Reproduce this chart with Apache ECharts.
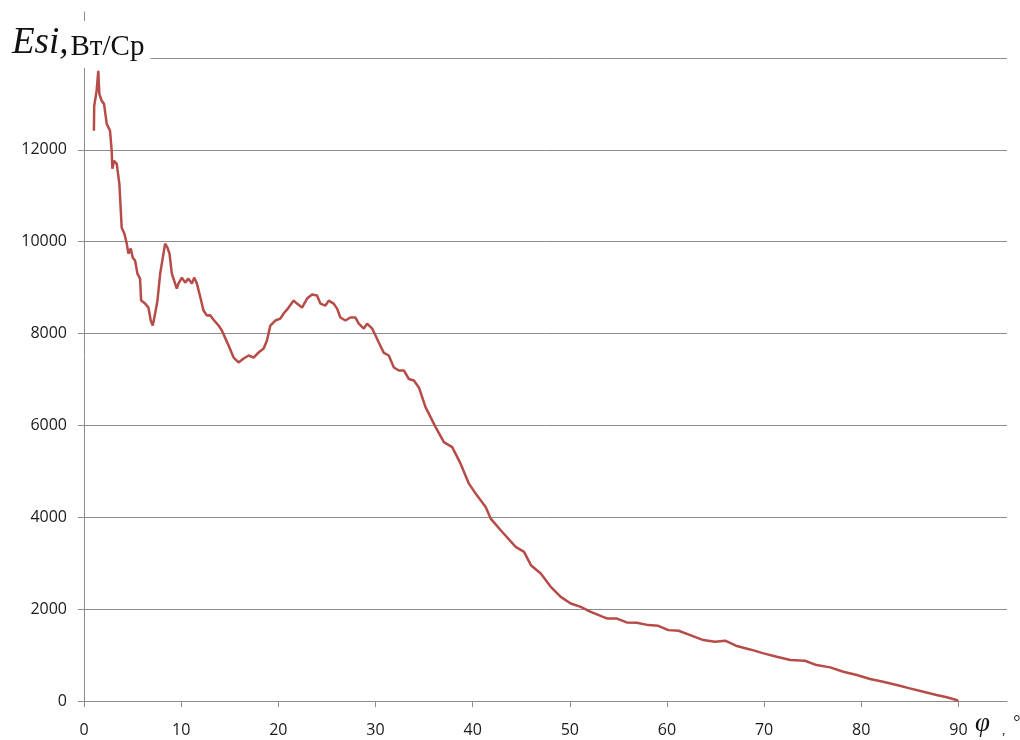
<!DOCTYPE html>
<html>
<head>
<meta charset="utf-8">
<script src="https://cdn.jsdelivr.net/npm/echarts@6/dist/echarts.min.js"></script>
<style>html,body{margin:0;padding:0;background:#fff;}#chart{width:1020px;height:740px;}</style>
</head>
<body>
<div id="chart"></div>
<script>
const phi = [1.02,1.05,1.3,1.47,1.58,1.82,2.06,2.16,2.34,2.68,2.85,2.92,3.09,3.37,3.64,3.88,4.16,4.4,4.57,4.81,5.02,5.26,5.5,5.77,5.88,6.29,6.63,6.87,7.08,7.32,7.56,7.84,8.18,8.35,8.59,8.8,9.04,9.38,9.55,9.72,10.07,10.41,10.75,11.1,11.34,11.62,11.96,12.3,12.65,12.99,13.33,13.5,13.85,14.19,14.54,14.88,15.4,15.91,16.43,16.94,17.46,17.97,18.49,18.83,19.18,19.69,20.21,20.55,21.06,21.58,21.92,22.44,22.96,23.47,23.98,24.33,24.85,25.19,25.7,26.05,26.39,26.91,27.42,27.94,28.28,28.8,29.14,29.66,30.0,30.34,30.86,31.37,31.89,32.41,32.92,33.44,33.95,34.47,35.15,36.19,37.04,37.9,38.76,39.62,40.31,41.34,41.86,42.89,44.43,45.29,46.0,47.01,48.04,49.07,50.1,51.13,52.16,53.8,54.8,55.85,56.9,58.1,59.1,60.15,61.2,62.4,63.75,64.95,66.0,67.2,68.55,69.95,71.3,72.7,74.2,75.4,76.8,78.15,79.55,80.9,82.25,83.65,85.0,86.4,87.75,88.8,89.8,90.0];
const esi = [12413,12956,13283,13717,13217,13065,13000,13022,12565,12413,11978,11587,11760,11695,11260,10304,10174,9957,9739,9848,9652,9587,9304,9196,8717,8652,8565,8283,8174,8435,8717,9304,9739,9957,9870,9739,9304,9087,8978,9087,9217,9109,9196,9087,9217,9087,8800,8500,8391,8400,8300,8326,8174,8065,7900,7739,7478,7370,7457,7522,7478,7587,7674,7848,8174,8283,8326,8435,8565,8717,8652,8565,8761,8848,8826,8652,8609,8717,8652,8543,8348,8283,8348,8348,8217,8109,8215,8109,7957,7804,7580,7522,7261,7196,7196,7010,6978,6826,6398,5963,5637,5528,5167,4732,4515,4224,3971,3717,3354,3246,2957,2776,2485,2267,2122,2050,1941,1797,1797,1710,1703,1652,1637,1543,1529,1435,1326,1290,1312,1196,1123,1036,963,891,877,782,732,637,565,478,420,348,275,202,130,80,22,0];
const xTicks = [0,10,20,30,40,50,60,70,80,90];
const yTicks = [0,2000,4000,6000,8000,10000,12000,14000];
const yLabels = [0,2000,4000,6000,8000,10000,12000];

const gridColor = '#8c8c8c';
const chart = echarts.init(document.getElementById('chart'));
chart.setOption({
  animation: false,
  backgroundColor: '#fff',
  title: [{
    text: '{a|Esi,}{b|Вт/Ср}',
    left: 8, top: 21,
    padding: [4, 6, 6, 4],
    backgroundColor: '#fff',
    textStyle: {
      fontWeight: 'normal',
      rich: {
        a: {fontFamily: 'Liberation Serif', fontStyle: 'italic', fontWeight: 'normal', fontSize: 37, color: '#111', lineHeight: 37, verticalAlign: 'bottom'},
        b: {fontFamily: 'Liberation Serif', fontWeight: 'normal', fontSize: 29, color: '#111', lineHeight: 31, verticalAlign: 'bottom', padding: [0, 0, 0, 2]}
      }
    }
  }, {
    text: '{p|φ}{c|,}{d|°}',
    left: 975, top: 709,
    padding: 0,
    textStyle: {
      fontWeight: 'normal',
      rich: {
        p: {fontFamily: 'Liberation Serif', fontStyle: 'italic', fontWeight: 'normal', fontSize: 27, color: '#111', lineHeight: 28, verticalAlign: 'bottom'},
        c: {fontFamily: 'Liberation Serif', fontWeight: 'normal', fontSize: 13, color: '#111', lineHeight: 28, verticalAlign: 'bottom', padding: [0, 0, 0, 12]},
        d: {fontFamily: 'Liberation Serif', fontWeight: 'normal', fontSize: 18, color: '#111', lineHeight: 28, verticalAlign: 'middle', padding: [0, 0, 0, 8]}
      }
    }
  }],
  grid: {left: 84, right: 13, top: 12, bottom: 39, containLabel: false, outerBoundsMode: 'none'},
  xAxis: {
    type: 'value', min: 0, max: 95, interval: 10,
    axisLine: {show: true, lineStyle: {color: gridColor, width: 1}},
    axisTick: {show: true, length: 6, lineStyle: {color: gridColor}, customValues: xTicks},
    axisLabel: {customValues: xTicks, margin: 21, color: '#1a1a1a', fontFamily: 'Open Sans', fontSize: 16, formatter: v => String(v)},
    splitLine: {show: false}
  },
  yAxis: {
    type: 'value', min: 0, max: 15000, interval: 2000,
    axisLine: {show: true, lineStyle: {color: gridColor, width: 1}},
    axisTick: {show: true, length: 6, lineStyle: {color: gridColor}, customValues: yTicks},
    axisLabel: {customValues: yLabels, margin: 17, color: '#1a1a1a', fontFamily: 'Open Sans', fontSize: 16, formatter: v => String(v)},
    splitLine: {show: true, lineStyle: {color: gridColor, width: 1}}
  },
  series: [{
    type: 'line',
    data: phi.map((p, i) => [p, esi[i]]),
    showSymbol: false,
    symbol: 'none',
    lineStyle: {color: '#b64b48', width: 2.5},
    z: 3
  }]
});
</script>
</body>
</html>
